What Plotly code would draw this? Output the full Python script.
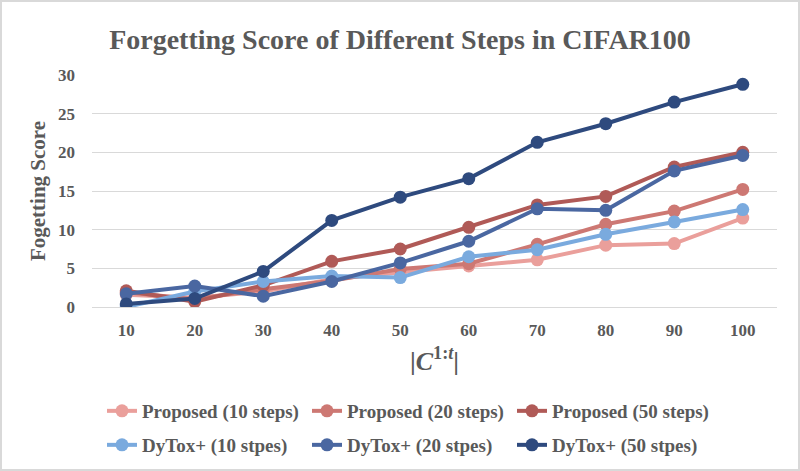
import plotly.graph_objects as go

categories = ["10", "20", "30", "40", "50", "60", "70", "80", "90", "100"]

proposed_10 = [1.6, 1.2, 2.0, 3.6, 4.5, 5.3, 6.1, 8.0, 8.2, 11.5]
proposed_20 = [1.9, 1.0, 2.3, 3.4, 4.9, 5.6, 8.1, 10.7, 12.4, 15.2]
proposed_50 = [2.1, 0.7, 2.8, 5.9, 7.5, 10.3, 13.2, 14.3, 18.1, 20.0]
dytox_10 = [0.0, 2.0, 3.3, 4.0, 3.8, 6.5, 7.4, 9.4, 11.0, 12.6]
dytox_20 = [1.7, 2.7, 1.4, 3.3, 5.7, 8.5, 12.7, 12.5, 17.6, 19.6]
dytox_50 = [0.4, 1.1, 4.6, 11.2, 14.2, 16.6, 21.3, 23.7, 26.5, 28.8]

series_names = [
    "Proposed (10 steps)", "Proposed (20 steps)", "Proposed (50 steps)",
    "DyTox+ (10 stpes)", "DyTox+ (20 stpes)", "DyTox+ (50 stpes)",
]
series_values = [proposed_10, proposed_20, proposed_50, dytox_10, dytox_20, dytox_50]
series_colors = ["#EA9F9B", "#CD7873", "#B05A57", "#7AAADE", "#4A67A1", "#2E4A7E"]
series_legend = ["legend", "legend", "legend", "legend2", "legend2", "legend2"]

y_ticks = [0, 5, 10, 15, 20, 25, 30]

FONT = "Liberation Serif"
GREY = "#595959"

fig = go.Figure()
for name, vals, col, lg in zip(series_names, series_values, series_colors, series_legend):
    fig.add_trace(go.Scatter(
        x=categories, y=vals, name=name, mode="lines+markers",
        line=dict(color=col, width=4),
        marker=dict(color=col, size=13),
        legend=lg,
    ))

W, H = 800, 471
ml, mr, mt, mb = 92, 23, 75, 164
pw, ph = W - ml - mr, H - mt - mb

legend_common = dict(
    orientation="h",
    xref="container", yref="container",
    x=102 / W, xanchor="left", yanchor="middle",
    entrywidth=160,
    font=dict(family=FONT, size=19, color=GREY, weight="bold"),
    traceorder="normal",
    bgcolor="rgba(0,0,0,0)",
)

fig.update_layout(
    width=W, height=H,
    margin=dict(l=ml, r=mr, t=mt, b=mb),
    paper_bgcolor="white", plot_bgcolor="white",
    font=dict(family=FONT, color=GREY, size=16),
    title=dict(
        text="<b>Forgetting Score of Different Steps in CIFAR100</b>",
        font=dict(family=FONT, size=28, color=GREY),
        x=0.5, xref="container", xanchor="center",
        y=1 - 39 / H, yref="container", yanchor="middle",
    ),
    xaxis=dict(
        type="category", categoryorder="array", categoryarray=categories,
        range=[-0.5, 9.5], automargin=False,
        showgrid=False, showline=True, linecolor="#D9D9D9", linewidth=1,
        ticks="", tickfont=dict(family=FONT, size=17, color=GREY, weight="bold"),
        ticklabelstandoff=8,
        title=dict(
            text="|<i>C</i><sup>1:<i>t</i></sup>|",
            font=dict(family=FONT, size=26, color=GREY, weight="bold"),
            standoff=12,
        ),
    ),
    yaxis=dict(
        range=[0, 30], tickvals=y_ticks, automargin=False,
        showgrid=True, gridcolor="#D9D9D9", gridwidth=1,
        zeroline=False, showline=False, ticks="",
        tickfont=dict(family=FONT, size=17, color=GREY, weight="bold"),
        ticklabelstandoff=16,
        title=dict(
            text="<b>Fogetting Score</b>",
            font=dict(family=FONT, size=21, color=GREY),
            standoff=6,
        ),
    ),
    legend=dict(legend_common, y=1 - 411 / H),
    legend2=dict(legend_common, y=1 - 445 / H),
    showlegend=True,
)

# chart border
fig.add_shape(
    type="rect", xref="paper", yref="paper",
    x0=(1 - ml) / pw, x1=(W - 1 - ml) / pw,
    y0=-(H - 1 - (mt + ph)) / ph, y1=(mt + ph - 1) / ph,
    line=dict(color="#D9D9D9", width=2), fillcolor="rgba(0,0,0,0)",
    layer="below",
)

fig.write_html(
    "out.html",
    config={"displayModeBar": False},
    post_script="document.body.style.margin='0';document.body.style.padding='0';",
)
